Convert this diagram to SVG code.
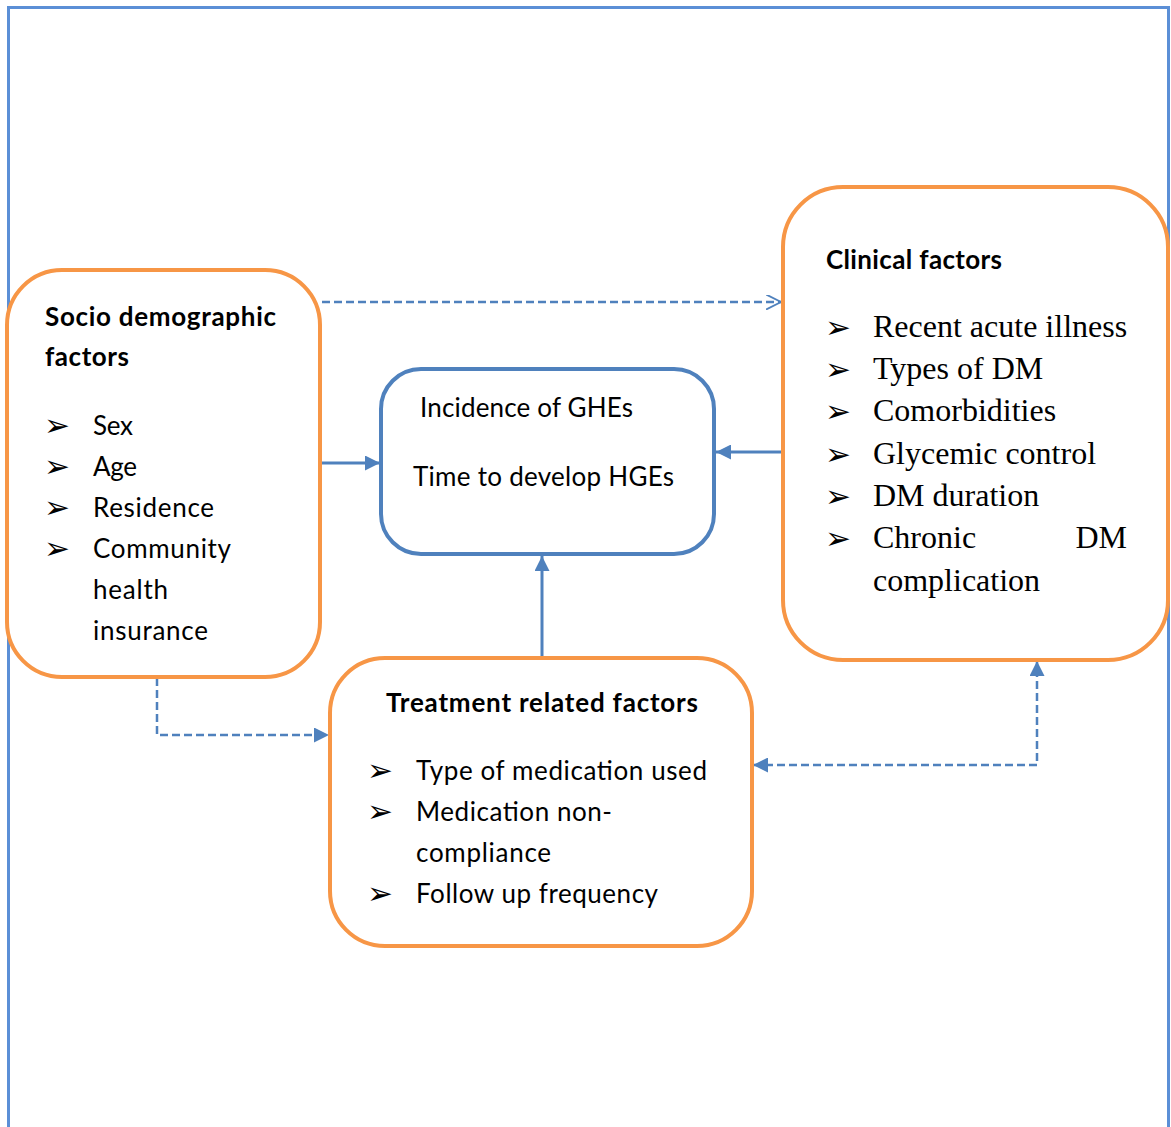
<svg xmlns="http://www.w3.org/2000/svg" width="1171" height="1127" viewBox="0 0 1171 1127">
<style>
.frame{fill:none;stroke:#5B8FD6;stroke-width:3}
.obox{fill:#fff;stroke:#F79646;stroke-width:4}
.bbox{fill:#fff;stroke:#4F81BD;stroke-width:4}
.c{font-family:Lato,"Liberation Sans",sans-serif;font-size:26px;fill:#000}
.b{font-weight:bold}
.t{font-family:"Liberation Serif",serif;font-size:32px;fill:#000}
.bul{font-family:"DejaVu Sans",sans-serif;font-size:31px;fill:#000}
.solid{fill:none;stroke:#4F81BD;stroke-width:3}
.dash{fill:none;stroke:#4F81BD;stroke-width:2.5;stroke-dasharray:8 4}
</style>
<defs>
<marker id="tri" viewBox="0 0 10 10" refX="10" refY="5" markerWidth="5" markerHeight="5" markerUnits="strokeWidth" orient="auto-start-reverse">
<path d="M0,0 L10,5 L0,10 z" fill="#4F81BD"/>
</marker>
<marker id="triD" viewBox="0 0 10 10" refX="10" refY="5" markerWidth="6" markerHeight="6" markerUnits="strokeWidth" orient="auto-start-reverse">
<path d="M0,0 L10,5 L0,10 z" fill="#4F81BD"/>
</marker>
<marker id="open" viewBox="0 0 10 10" refX="10" refY="5" markerWidth="6" markerHeight="6" markerUnits="strokeWidth" orient="auto">
<path d="M0,0 L10,5 L0,10" fill="none" stroke="#4F81BD" stroke-width="1.3"/>
</marker>
</defs>
<rect width="1171" height="1127" fill="#fff"/>
<path class="frame" d="M8.5,1127 V7.5 H1168.5 V1127"/>

<g id="connectors">
<path class="dash" d="M322,302 H781" marker-end="url(#open)"/>
<path class="solid" d="M320,463 H380" marker-end="url(#tri)"/>
<path class="solid" d="M783,452 H716" marker-end="url(#tri)"/>
<path class="solid" d="M542,658 V556" marker-end="url(#tri)"/>
<path class="dash" d="M157,678 V735 H329" marker-end="url(#triD)"/>
<path class="dash" d="M753,765 H1037 V661" marker-start="url(#triD)" marker-end="url(#triD)"/>
</g>

<g id="socio">
<rect class="obox" x="7" y="270" width="313" height="407" rx="55"/>
<text class="c b" x="45" y="326" textLength="231">Socio demographic</text>
<text class="c b" x="45" y="366" textLength="84">factors</text>
<text class="bul" x="44" y="436">➢</text>
<text class="bul" x="44" y="477">➢</text>
<text class="bul" x="44" y="518">➢</text>
<text class="bul" x="44" y="559">➢</text>
<text class="c" x="93" y="435" textLength="40">Sex</text>
<text class="c" x="93" y="476" textLength="44">Age</text>
<text class="c" x="93" y="517" textLength="121">Residence</text>
<text class="c" x="93" y="558" textLength="138">Community</text>
<text class="c" x="93" y="599" textLength="75">health</text>
<text class="c" x="93" y="640" textLength="115">insurance</text>
</g>

<g id="outcome">
<rect class="bbox" x="381" y="369" width="333" height="185" rx="40"/>
<text class="c" x="420" y="417" textLength="213">Incidence of GHEs</text>
<text class="c" x="413" y="486" textLength="261">Time to develop HGEs</text>
</g>

<g id="clinical">
<rect class="obox" x="783" y="187" width="385" height="473" rx="60"/>
<text class="c b" x="826" y="269" textLength="176">Clinical factors</text>
<text class="bul" x="825" y="338">➢</text>
<text class="bul" x="825" y="380">➢</text>
<text class="bul" x="825" y="422">➢</text>
<text class="bul" x="825" y="465">➢</text>
<text class="bul" x="825" y="507">➢</text>
<text class="bul" x="825" y="549">➢</text>
<text class="t" x="873" y="337">Recent acute illness</text>
<text class="t" x="873" y="379">Types of DM</text>
<text class="t" x="873" y="421">Comorbidities</text>
<text class="t" x="873" y="464">Glycemic control</text>
<text class="t" x="873" y="506">DM duration</text>
<text class="t" x="873" y="548">Chronic</text>
<text class="t" x="1127" y="548" text-anchor="end">DM</text>
<text class="t" x="873" y="591">complication</text>
</g>

<g id="treatment">
<rect class="obox" x="330" y="658" width="422" height="288" rx="55"/>
<text class="c b" x="386" y="712" textLength="312">Treatment related factors</text>
<text class="bul" x="367" y="781">➢</text>
<text class="bul" x="367" y="822">➢</text>
<text class="bul" x="367" y="904">➢</text>
<text class="c" x="416" y="780" textLength="291">Type of medication used</text>
<text class="c" x="416" y="821" textLength="196">Medication non-</text>
<text class="c" x="416" y="862" textLength="135">compliance</text>
<text class="c" x="416" y="903" textLength="242">Follow up frequency</text>
</g>
</svg>
